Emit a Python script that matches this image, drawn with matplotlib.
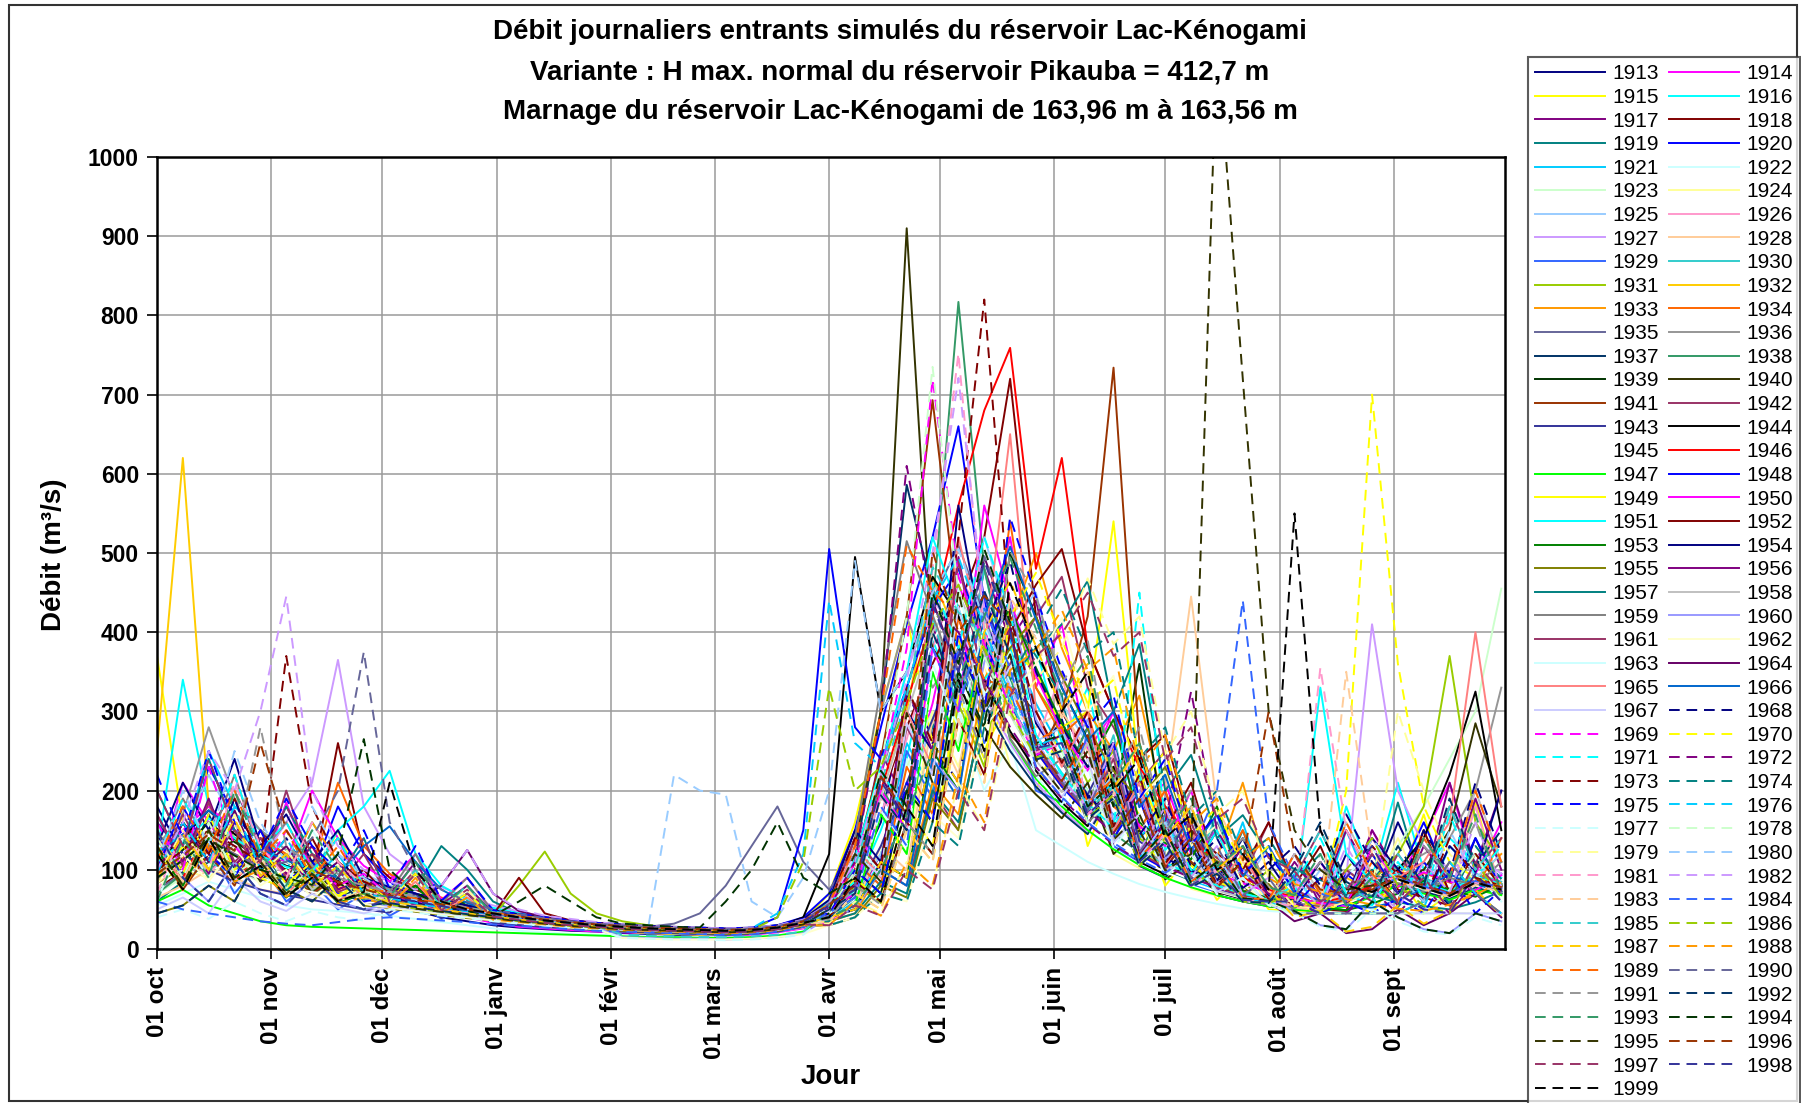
#!/usr/bin/env python
"""
plot.py
───────
Débits journaliers entrants simulés du réservoir Lac-Kénogami,
une courbe par année hydrologique (1913 à 1999), du 1er octobre au 30 septembre.
"""

import numpy as np
import matplotlib
matplotlib.use("Agg")
import matplotlib.pyplot as plt
from matplotlib.patches import Rectangle

plt.rcParams["font.family"] = ["Liberation Sans", "DejaVu Sans"]

TITRE = [
    "Débit journaliers entrants simulés du réservoir Lac-Kénogami",
    "Variante : H max. normal du réservoir Pikauba = 412,7 m",
    "Marnage du réservoir Lac-Kénogami de 163,96 m à 163,56 m",
]

# jour de l'année hydrologique (0 = 1er octobre), une valeur par semaine
jours = np.arange(0, 365, 7)

MOIS_JOURS = [0, 31, 61, 92, 123, 151, 182, 212, 243, 273, 304, 335]
MOIS_NOMS = ["01 oct", "01 nov", "01 déc", "01 janv", "01 févr", "01 mars",
             "01 avr", "01 mai", "01 juin", "01 juil", "01 août", "01 sept"]

# débits (m³/s) : oct-nov | déc-janv | févr-mars | avr-mai | juin-juil | août-sept
q1913 = [180, 120, 95, 140, 110, 85, 70, 90, 65,  55, 48, 40, 35, 30, 27, 25, 23, 22,  20, 19, 18, 17, 18, 19, 22, 30,  45, 90, 160, 320, 270, 420, 310, 380, 240,  290, 190, 230, 140, 175, 95, 150, 80, 110,  62, 45, 120, 75, 160, 90, 55, 140, 70]
q1914 = [95, 210, 160, 110, 90, 185, 100, 140, 70,  95, 55, 45, 40, 33, 28, 26, 24, 22,  21, 20, 19, 18, 17, 18, 21, 26,  35, 60, 120, 200, 310, 460, 380, 520, 330,  410, 250, 300, 180, 210, 120, 150, 90, 130,  70, 110, 60, 150, 90, 140, 210, 95, 160]
q1915 = [370, 160, 120, 100, 130, 95, 85, 150, 70,  62, 55, 48, 42, 36, 32, 28, 26, 24,  22, 20, 19, 18, 18, 20, 24, 35,  70, 160, 300, 420, 260, 380, 250, 320, 200,  280, 130, 210, 170, 80, 120, 62, 95, 50,  48, 46, 55, 120, 80, 170, 60, 185, 70]
q1916 = [120, 340, 180, 140, 120, 100, 160, 110, 85,  70, 60, 52, 45, 38, 33, 30, 27, 25,  23, 21, 20, 19, 18, 19, 22, 28,  40, 75, 150, 240, 390, 310, 450, 330, 380,  260, 330, 180, 250, 125, 160, 80, 130, 55,  95, 48, 180, 90, 210, 100, 140, 110, 90]
q1917 = [110, 90, 150, 200, 130, 110, 95, 85, 80,  70, 65, 58, 50, 44, 40, 36, 33, 30,  28, 26, 25, 24, 23, 24, 27, 33,  48, 90, 250, 180, 410, 300, 480, 390, 440,  300, 240, 260, 150, 200, 95, 150, 72, 64,  120, 56, 62, 150, 95, 80, 210, 105, 200]
q1918 = [75, 100, 120, 95, 150, 115, 90, 260, 120,  90, 75, 62, 55, 48, 42, 38, 34, 31,  29, 27, 26, 25, 24, 25, 28, 35,  55, 100, 190, 280, 360, 430, 520, 720, 420,  300, 240, 190, 250, 150, 210, 100, 85, 72,  55, 50, 48, 130, 75, 65, 55, 80, 70]
q1919 = [60, 85, 110, 130, 100, 90, 120, 100, 80,  70, 75, 130, 100, 60, 45, 38, 33, 30,  27, 25, 24, 23, 22, 23, 26, 32,  40, 65, 120, 200, 280, 350, 300, 420, 370,  320, 160, 135, 220, 98, 85, 74, 150, 58,  52, 50, 58, 70, 185, 75, 68, 90, 80]
q1920 = [140, 110, 230, 170, 130, 110, 95, 180, 120,  85, 70, 60, 52, 45, 40, 36, 32, 30,  28, 26, 25, 24, 23, 25, 30, 40,  70, 150, 280, 410, 520, 660, 440, 330, 260,  210, 280, 140, 190, 100, 130, 76, 66, 58,  52, 48, 95, 68, 90, 160, 85, 70, 95]
q1921 = [90, 130, 250, 180, 150, 125, 110, 95, 85,  75, 65, 56, 48, 42, 37, 33, 30, 28,  26, 24, 23, 22, 21, 22, 25, 31,  38, 60, 110, 260, 200, 330, 430, 390, 310,  250, 200, 170, 140, 180, 86, 75, 160, 58,  52, 48, 150, 72, 60, 52, 130, 95, 80]
q1922 = [55, 70, 85, 75, 65, 55, 50, 48, 45,  42, 38, 34, 30, 26, 23, 21, 19, 18,  17, 16, 15, 15, 14, 15, 17, 22,  38, 110, 80, 240, 170, 300, 200, 260, 150,  130, 110, 95, 82, 72, 64, 57, 51, 48,  46, 45, 45, 45, 45, 45, 45, 45, 45]
q1923 = [70, 90, 120, 100, 85, 110, 95, 80, 72,  64, 56, 50, 44, 38, 34, 30, 27, 25,  23, 22, 21, 20, 19, 20, 23, 28,  45, 70, 120, 230, 300, 260, 410, 380, 300,  240, 200, 165, 230, 112, 95, 82, 140, 64,  58, 54, 65, 90, 130, 180, 240, 300, 455]
q1924 = [85, 100, 90, 120, 105, 90, 80, 75, 68,  60, 54, 48, 42, 37, 33, 30, 27, 25,  23, 21, 20, 19, 19, 20, 23, 29,  46, 70, 175, 120, 300, 230, 360, 230, 195,  165, 240, 120, 102, 150, 76, 67, 110, 54,  50, 48, 56, 66, 140, 70, 62, 75, 68]
q1925 = [100, 140, 220, 160, 125, 105, 90, 120, 95,  80, 68, 58, 50, 44, 39, 35, 31, 29,  27, 25, 24, 23, 22, 23, 26, 33,  45, 70, 120, 180, 290, 380, 520, 410, 450,  310, 260, 300, 190, 150, 180, 95, 78, 130,  68, 54, 100, 78, 60, 140, 88, 75, 95]
q1926 = [80, 110, 95, 130, 105, 85, 75, 70, 65,  58, 52, 46, 41, 36, 32, 29, 26, 24,  22, 21, 20, 19, 18, 19, 22, 27,  44, 86, 170, 265, 380, 470, 420, 330, 260,  350, 175, 245, 120, 100, 160, 75, 66, 58,  53, 50, 58, 140, 88, 76, 66, 180, 72]
q1927 = [95, 120, 150, 130, 110, 160, 210, 365, 180,  120, 95, 78, 65, 55, 47, 41, 36, 32,  29, 27, 26, 25, 24, 25, 28, 35,  58, 115, 230, 350, 440, 400, 320, 260, 210,  175, 148, 200, 105, 90, 130, 68, 60, 54,  50, 56, 90, 410, 200, 130, 100, 120, 95]
q1928 = [65, 80, 100, 90, 75, 70, 95, 80, 70,  62, 55, 48, 43, 38, 34, 31, 28, 26,  24, 22, 21, 20, 20, 21, 24, 30,  40, 55, 130, 100, 290, 220, 420, 300, 280,  300, 250, 190, 150, 200, 445, 180, 110, 80,  65, 58, 70, 85, 100, 85, 72, 90, 80]
q1929 = [150, 95, 130, 70, 110, 60, 85, 50, 70,  42, 60, 38, 50, 33, 30, 28, 26, 24,  22, 21, 20, 19, 18, 19, 22, 28,  42, 110, 80, 250, 190, 380, 260, 330, 200,  185, 270, 130, 110, 170, 82, 72, 64, 58,  52, 48, 55, 68, 82, 72, 64, 78, 70]
q1930 = [120, 150, 110, 95, 140, 115, 100, 85, 75,  68, 60, 53, 47, 41, 36, 32, 29, 27,  25, 23, 22, 21, 20, 21, 24, 30,  52, 80, 200, 150, 420, 300, 480, 330, 260,  215, 180, 270, 125, 106, 92, 170, 70, 62,  56, 52, 62, 80, 105, 90, 76, 95, 85]
q1931 = [80, 105, 130, 110, 95, 85, 78, 72, 66,  60, 55, 50, 46, 42, 80, 123, 70, 45,  35, 30, 27, 25, 24, 25, 28, 34,  40, 80, 58, 160, 120, 310, 230, 440, 330,  280, 210, 250, 140, 115, 170, 85, 70, 100,  58, 50, 62, 85, 120, 180, 370, 160, 110]
q1932 = [250, 620, 180, 140, 115, 100, 88, 78, 70,  63, 57, 51, 46, 41, 37, 33, 30, 28,  26, 24, 23, 22, 21, 22, 25, 31,  50, 95, 190, 300, 470, 390, 310, 350, 250,  205, 172, 230, 122, 104, 150, 78, 68, 60,  55, 52, 90, 74, 60, 110, 68, 85, 75]
q1933 = [90, 115, 140, 120, 100, 88, 160, 110, 85,  72, 62, 54, 47, 41, 36, 32, 29, 27,  25, 23, 22, 21, 20, 21, 24, 30,  35, 45, 100, 80, 210, 170, 340, 410, 500,  380, 300, 250, 320, 170, 140, 115, 210, 90,  70, 54, 100, 75, 60, 150, 70, 88, 120]
q1934 = [110, 90, 125, 105, 140, 120, 100, 210, 130,  95, 78, 65, 55, 47, 41, 36, 32, 29,  27, 25, 24, 23, 22, 23, 26, 32,  45, 110, 80, 230, 170, 420, 300, 540, 330,  270, 300, 180, 152, 200, 108, 93, 150, 71,  63, 57, 53, 110, 78, 96, 84, 72, 140]
q1935 = [75, 95, 115, 100, 88, 80, 72, 66, 60,  55, 50, 46, 42, 38, 35, 32, 30, 28,  27, 28, 32, 45, 80, 130, 180, 110,  75, 120, 220, 330, 440, 510, 420, 330, 260,  215, 178, 148, 230, 105, 91, 160, 69, 61,  56, 52, 60, 72, 88, 76, 66, 82, 74]
q1936 = [130, 170, 280, 190, 150, 125, 110, 95, 85,  76, 67, 59, 52, 46, 41, 37, 33, 30,  28, 26, 25, 24, 23, 24, 27, 33,  60, 140, 300, 420, 330, 380, 290, 330, 270,  222, 184, 260, 128, 109, 180, 82, 72, 64,  58, 54, 64, 82, 102, 120, 140, 200, 330]
q1937 = [150, 95, 170, 100, 130, 75, 110, 60, 85,  62, 95, 50, 70, 40, 36, 33, 30, 28,  26, 24, 23, 22, 21, 22, 25, 32,  55, 115, 300, 586, 450, 380, 310, 250, 205,  172, 145, 200, 105, 90, 130, 68, 60, 54,  50, 48, 55, 68, 82, 72, 64, 78, 70]
q1938 = [70, 95, 120, 105, 90, 82, 75, 68, 62,  57, 52, 47, 43, 39, 35, 32, 29, 27,  25, 24, 23, 22, 21, 22, 25, 31,  52, 75, 205, 150, 430, 817, 480, 340, 260,  210, 280, 146, 122, 180, 90, 78, 68, 60,  55, 52, 60, 74, 90, 80, 70, 86, 78]
q1939 = [100, 125, 160, 135, 115, 100, 90, 82, 75,  68, 62, 56, 50, 45, 40, 36, 33, 30,  28, 26, 25, 24, 23, 24, 27, 34,  45, 100, 70, 200, 160, 350, 280, 500, 420,  330, 265, 180, 360, 140, 100, 82, 130, 62,  56, 52, 62, 78, 96, 84, 72, 92, 82]
q1940 = [90, 160, 100, 140, 85, 120, 70, 100, 65,  62, 80, 50, 60, 40, 36, 33, 30, 28,  26, 24, 23, 22, 21, 22, 26, 34,  60, 130, 300, 910, 380, 330, 280, 230, 195,  165, 210, 120, 150, 88, 110, 68, 80, 54,  50, 48, 56, 72, 90, 100, 150, 285, 180]
q1941 = [130, 75, 120, 80, 150, 95, 70, 90, 55,  60, 55, 50, 45, 40, 36, 33, 30, 28,  26, 24, 23, 22, 21, 22, 25, 32,  55, 110, 240, 420, 693, 420, 330, 270, 240,  300, 420, 734, 260, 150, 110, 88, 74, 64,  57, 53, 62, 78, 95, 83, 72, 90, 80]
q1942 = [95, 170, 110, 150, 90, 200, 100, 80, 120,  64, 100, 52, 75, 42, 38, 34, 31, 29,  27, 25, 24, 23, 22, 23, 26, 33,  40, 50, 100, 80, 200, 150, 310, 360, 420,  470, 330, 280, 210, 250, 140, 115, 90, 160,  75, 60, 100, 75, 92, 80, 70, 88, 78]
q1943 = [160, 120, 100, 85, 75, 68, 62, 56, 50,  46, 70, 39, 55, 33, 30, 28, 26, 24,  22, 21, 20, 19, 18, 19, 22, 28,  40, 70, 130, 210, 290, 370, 450, 330, 300,  235, 195, 260, 136, 114, 170, 84, 73, 64,  57, 52, 49, 70, 86, 75, 66, 80, 72]
q1944 = [110, 140, 175, 145, 120, 105, 95, 86, 78,  70, 63, 56, 50, 45, 40, 36, 33, 30,  28, 26, 25, 24, 23, 24, 28, 40,  120, 495, 300, 350, 470, 420, 340, 275, 225,  185, 155, 230, 110, 94, 140, 72, 63, 56,  51, 48, 56, 72, 100, 140, 220, 325, 150]
q1945 = [80, 100, 120, 100, 90, 80, 72, 66, 60,  55, 50, 46, 42, 38, 34, 31, 28, 26,  24, 23, 22, 21, 20, 21, 24, 30,  50, 95, 190, 290, 390, 440, 360, 290, 235,  195, 162, 136, 114, 97, 84, 73, 64, 57,  52, 49, 57, 70, 86, 75, 66, 80, 72]
q1946 = [140, 90, 150, 85, 125, 95, 130, 75, 90,  62, 56, 50, 45, 40, 36, 33, 30, 28,  26, 24, 23, 22, 21, 22, 25, 32,  52, 100, 200, 310, 420, 560, 680, 759, 480,  620, 380, 300, 230, 180, 140, 110, 90, 75,  65, 58, 66, 80, 98, 86, 74, 92, 82]
q1947 = [60, 75, 55, 45, 35, 30, 28, 27, 26,  25, 24, 23, 22, 21, 20, 19, 18, 17,  16, 15, 15, 14, 14, 15, 17, 22,  40, 55, 170, 120, 350, 250, 390, 265, 215,  180, 150, 126, 106, 90, 78, 68, 60, 54,  50, 47, 54, 66, 80, 70, 62, 75, 68]
q1948 = [100, 180, 120, 90, 150, 85, 110, 70, 60,  66, 60, 54, 48, 43, 39, 35, 32, 30,  28, 26, 25, 24, 23, 26, 40, 150,  505, 280, 240, 330, 430, 480, 390, 310, 250,  205, 170, 260, 119, 101, 150, 76, 67, 59,  54, 90, 59, 120, 70, 110, 69, 140, 77]
q1949 = [85, 130, 100, 160, 90, 75, 120, 65, 90,  60, 54, 49, 44, 40, 36, 33, 30, 28,  26, 24, 23, 22, 21, 22, 25, 31,  40, 90, 60, 180, 130, 320, 240, 380, 350,  280, 300, 540, 220, 140, 105, 85, 72, 63,  57, 45, 61, 45, 93, 45, 71, 120, 79]
q1950 = [120, 150, 180, 150, 125, 110, 200, 140, 105,  85, 120, 62, 90, 47, 42, 37, 34, 31,  29, 27, 26, 25, 24, 25, 28, 35,  50, 70, 200, 150, 380, 300, 560, 440, 345,  275, 225, 300, 155, 130, 200, 95, 83, 72,  64, 58, 54, 130, 79, 97, 85, 74, 93]
q1951 = [110, 135, 165, 140, 118, 104, 94, 150, 180,  225, 120, 80, 62, 52, 45, 40, 36, 33,  30, 28, 27, 26, 25, 26, 29, 36,  60, 115, 230, 350, 520, 430, 340, 380, 270,  222, 184, 153, 220, 109, 94, 150, 72, 64,  58, 330, 120, 85, 95, 84, 73, 92, 82]
q1952 = [95, 160, 120, 190, 110, 85, 140, 80, 100,  65, 59, 53, 48, 43, 90, 45, 36, 33,  30, 28, 27, 26, 25, 26, 29, 36,  40, 85, 60, 160, 120, 290, 220, 400, 460,  505, 380, 300, 240, 270, 150, 120, 100, 160,  80, 130, 56, 100, 60, 150, 71, 120, 79]
q1953 = [125, 80, 140, 85, 105, 65, 95, 58, 70,  53, 80, 45, 60, 37, 34, 31, 28, 26,  24, 23, 22, 21, 20, 21, 24, 30,  40, 50, 110, 90, 250, 200, 380, 430, 355,  285, 230, 290, 160, 134, 113, 180, 73, 64,  57, 52, 49, 57, 70, 86, 75, 66, 81]
q1954 = [130, 210, 150, 240, 130, 170, 110, 150, 90,  78, 70, 62, 55, 49, 44, 40, 36, 33,  31, 29, 28, 27, 26, 27, 30, 38,  62, 150, 110, 300, 250, 560, 380, 440, 285,  235, 194, 162, 210, 115, 99, 86, 140, 67,  61, 110, 66, 140, 101, 60, 130, 97, 200]
q1955 = [45, 55, 80, 60, 120, 75, 60, 90, 55,  51, 47, 43, 39, 36, 33, 30, 27, 25,  23, 22, 21, 20, 19, 20, 23, 29,  30, 40, 80, 65, 190, 150, 310, 380, 420,  345, 278, 225, 188, 230, 132, 111, 95, 82,  45, 45, 45, 45, 45, 60, 110, 70, 45]
q1956 = [170, 110, 190, 105, 140, 95, 130, 75, 90,  68, 110, 56, 80, 45, 40, 36, 33, 30,  28, 26, 25, 24, 23, 24, 27, 34,  56, 140, 100, 330, 250, 495, 330, 405, 256,  210, 175, 146, 200, 104, 90, 78, 130, 60,  110, 65, 150, 90, 55, 130, 85, 190, 100]
q1957 = [200, 130, 240, 150, 110, 180, 120, 90, 140,  61, 56, 51, 46, 41, 37, 34, 31, 29,  27, 25, 24, 23, 22, 23, 26, 32,  35, 45, 85, 70, 200, 160, 300, 340, 380,  410, 465, 300, 385, 200, 245, 140, 169, 118,  101, 87, 76, 67, 59, 54, 50, 59, 73]
q1958 = [85, 140, 95, 160, 90, 120, 75, 100, 65,  59, 54, 49, 45, 40, 36, 33, 30, 28,  26, 24, 23, 22, 21, 22, 25, 31,  50, 96, 192, 295, 400, 450, 372, 296, 238,  198, 260, 138, 170, 99, 120, 74, 65, 58,  120, 70, 160, 95, 60, 140, 90, 200, 110]
q1959 = [115, 190, 130, 220, 120, 160, 100, 140, 80,  72, 120, 58, 90, 47, 42, 38, 34, 31,  29, 27, 26, 25, 24, 25, 28, 35,  58, 140, 330, 515, 422, 334, 380, 266, 218,  240, 160, 190, 110, 140, 80, 110, 60, 56,  52, 62, 78, 95, 83, 72, 90, 80, 110]
q1960 = [150, 90, 60, 110, 70, 55, 90, 60, 50,  56, 51, 47, 43, 39, 35, 32, 29, 27,  15, 14, 13, 13, 12, 13, 15, 20,  40, 50, 100, 80, 240, 200, 362, 440, 290,  234, 290, 162, 200, 114, 140, 84, 100, 64,  48, 30, 25, 60, 40, 25, 20, 45, 35]
q1961 = [170, 105, 185, 110, 140, 90, 120, 72, 85,  66, 60, 54, 49, 44, 40, 36, 33, 30,  28, 26, 25, 24, 23, 24, 27, 34,  55, 140, 100, 280, 220, 490, 330, 402, 254,  208, 173, 240, 121, 103, 160, 77, 68, 60,  90, 150, 80, 60, 120, 75, 180, 100, 140]
q1962 = [72, 120, 85, 130, 80, 100, 65, 90, 57,  52, 48, 44, 40, 36, 33, 30, 27, 25,  14, 13, 12, 12, 12, 13, 15, 19,  30, 40, 70, 60, 170, 140, 280, 320, 360,  418, 300, 345, 190, 224, 130, 156, 80, 60,  45, 45, 45, 45, 45, 45, 45, 45, 45]
q1963 = [60, 140, 90, 200, 120, 80, 150, 100, 70,  60, 55, 50, 45, 41, 37, 34, 31, 28,  26, 25, 24, 23, 22, 23, 26, 32,  52, 130, 98, 300, 230, 455, 320, 375, 242,  250, 170, 200, 110, 140, 80, 100, 62, 58,  60, 45, 90, 130, 70, 50, 45, 95, 60]
q1964 = [95, 160, 110, 175, 100, 130, 85, 110, 70,  64, 60, 80, 125, 70, 48, 40, 36, 33,  30, 28, 27, 26, 25, 26, 29, 36,  58, 80, 218, 160, 440, 350, 495, 405, 255,  270, 180, 220, 120, 160, 85, 110, 65, 60,  35, 45, 20, 25, 50, 30, 45, 70, 40]
q1965 = [130, 85, 150, 90, 110, 70, 100, 62, 75,  57, 85, 48, 65, 40, 36, 33, 30, 28,  26, 24, 23, 22, 21, 22, 25, 31,  50, 130, 90, 300, 230, 520, 380, 650, 300,  230, 300, 150, 210, 106, 150, 79, 120, 61,  56, 52, 60, 74, 90, 110, 160, 400, 180]
q1966 = [120, 145, 175, 150, 126, 112, 100, 90, 130,  155, 110, 75, 58, 48, 42, 38, 34, 31,  29, 27, 26, 25, 24, 25, 28, 35,  40, 55, 100, 80, 240, 190, 420, 508, 416,  330, 263, 300, 179, 220, 125, 170, 92, 130,  70, 62, 56, 52, 61, 77, 94, 82, 72]
q1967 = [50, 65, 45, 90, 60, 48, 70, 52, 45,  54, 50, 46, 42, 38, 34, 31, 28, 26,  24, 23, 22, 21, 20, 21, 24, 30,  48, 120, 92, 285, 220, 432, 300, 356, 230,  192, 240, 134, 170, 96, 120, 72, 90, 56,  45, 45, 45, 45, 45, 45, 45, 45, 45]
q1968 = [98, 160, 110, 190, 100, 140, 87, 120, 71,  65, 59, 53, 48, 43, 39, 35, 32, 30,  28, 26, 25, 24, 23, 24, 27, 34,  40, 50, 110, 90, 260, 210, 400, 490, 350,  280, 230, 260, 144, 190, 103, 140, 77, 100,  130, 80, 170, 110, 70, 150, 95, 210, 120]
q1969 = [160, 100, 230, 130, 90, 150, 105, 80, 95,  67, 61, 55, 50, 45, 40, 36, 33, 30,  28, 26, 25, 24, 23, 24, 27, 34,  56, 108, 220, 380, 720, 470, 385, 305, 245,  260, 170, 200, 110, 150, 80, 110, 62, 58,  60, 45, 90, 130, 70, 50, 45, 95, 60]
q1970 = [150, 95, 170, 100, 130, 82, 110, 68, 80,  62, 95, 51, 70, 41, 37, 34, 31, 29,  27, 25, 24, 23, 22, 23, 26, 32,  35, 70, 50, 150, 110, 290, 210, 420, 475,  390, 310, 340, 205, 250, 142, 180, 101, 130,  54, 60, 200, 700, 360, 180, 110, 90, 80]
q1971 = [115, 190, 130, 220, 124, 160, 98, 140, 80,  72, 65, 58, 52, 47, 42, 38, 34, 31,  29, 27, 26, 25, 24, 25, 28, 35,  58, 85, 226, 170, 462, 380, 520, 425, 268,  220, 182, 152, 450, 160, 100, 80, 70, 62,  80, 140, 70, 55, 110, 65, 170, 90, 130]
q1972 = [88, 140, 95, 160, 90, 120, 80, 100, 66,  60, 55, 50, 45, 41, 37, 34, 31, 28,  26, 25, 24, 23, 22, 23, 26, 32,  52, 110, 300, 610, 430, 400, 340, 280, 230,  190, 158, 132, 111, 160, 325, 150, 95, 70,  58, 45, 45, 74, 45, 79, 45, 86, 77]
q1973 = [100, 125, 150, 130, 110, 370, 180, 110, 85,  72, 64, 57, 51, 46, 41, 37, 34, 31,  29, 27, 26, 25, 24, 25, 28, 35,  56, 140, 100, 330, 260, 520, 820, 420, 300,  235, 300, 155, 220, 108, 150, 81, 110, 63,  57, 90, 62, 130, 94, 60, 140, 90, 80]
q1974 = [130, 80, 150, 90, 110, 74, 100, 61, 70,  56, 51, 47, 43, 39, 35, 32, 29, 27,  25, 24, 23, 22, 21, 22, 25, 31,  30, 40, 70, 60, 160, 130, 280, 340, 400,  455, 375, 400, 240, 280, 166, 200, 116, 140,  86, 120, 66, 100, 53, 90, 58, 130, 88]
q1975 = [220, 140, 250, 160, 120, 190, 130, 100, 150,  76, 130, 61, 90, 49, 44, 40, 36, 33,  31, 29, 28, 27, 26, 27, 30, 38,  45, 100, 70, 210, 160, 400, 300, 545, 445,  352, 280, 320, 190, 240, 132, 170, 97, 120,  74, 45, 59, 45, 64, 45, 98, 45, 75]
q1976 = [96, 160, 110, 180, 100, 140, 85, 120, 70,  64, 58, 52, 47, 42, 38, 35, 32, 29,  27, 26, 25, 24, 23, 26, 45, 120,  440, 260, 230, 330, 440, 495, 405, 320, 256,  270, 180, 210, 115, 150, 85, 105, 62, 60,  45, 45, 45, 45, 45, 60, 110, 70, 45]
q1977 = [40, 50, 38, 60, 45, 35, 48, 40, 36,  50, 46, 42, 39, 35, 32, 29, 27, 25,  14, 13, 12, 12, 11, 12, 14, 18,  45, 65, 175, 130, 360, 280, 408, 336, 218,  182, 230, 128, 170, 92, 120, 69, 90, 55,  45, 28, 22, 50, 35, 22, 18, 40, 30]
q1978 = [140, 90, 160, 95, 115, 77, 100, 64, 75,  58, 53, 48, 44, 40, 36, 33, 30, 28,  26, 24, 23, 22, 21, 22, 25, 31,  50, 98, 230, 420, 735, 450, 370, 295, 238,  250, 160, 190, 105, 140, 80, 95, 60, 58,  45, 45, 45, 45, 45, 45, 75, 120, 60]
q1979 = [90, 150, 100, 170, 95, 125, 81, 105, 67,  61, 100, 51, 75, 41, 37, 34, 31, 29,  27, 25, 24, 23, 22, 23, 26, 32,  32, 60, 45, 110, 80, 210, 150, 300, 340,  380, 468, 385, 420, 246, 300, 170, 200, 90,  54, 50, 59, 73, 300, 200, 120, 86, 76]
q1980 = [108, 200, 130, 250, 160, 110, 180, 120, 90,  69, 62, 56, 50, 45, 41, 37, 34, 31,  29, 27, 220, 200, 195, 60, 40, 90,  200, 490, 300, 350, 450, 505, 415, 330, 262,  280, 180, 220, 115, 160, 85, 120, 65, 61,  56, 100, 61, 140, 93, 60, 150, 89, 120]
q1981 = [70, 150, 100, 210, 130, 90, 160, 110, 80,  59, 54, 49, 45, 41, 37, 33, 30, 28,  26, 24, 23, 22, 21, 22, 25, 31,  50, 70, 192, 150, 480, 752, 400, 310, 248,  260, 170, 200, 110, 145, 80, 100, 62, 59,  54, 355, 150, 90, 88, 77, 67, 84, 75]
q1982 = [100, 160, 250, 200, 300, 445, 200, 130, 100,  85, 75, 80, 125, 70, 50, 42, 38, 34,  31, 29, 28, 27, 26, 27, 30, 37,  58, 110, 220, 340, 500, 721, 430, 330, 262,  215, 178, 260, 124, 180, 91, 130, 69, 90,  90, 52, 130, 76, 50, 110, 71, 160, 79]
q1983 = [130, 85, 150, 90, 115, 70, 100, 63, 72,  57, 52, 48, 44, 40, 36, 33, 30, 28,  26, 24, 23, 22, 21, 22, 25, 31,  35, 70, 50, 150, 110, 290, 210, 444, 392,  292, 350, 196, 260, 136, 180, 97, 130, 73,  52, 49, 350, 120, 86, 75, 66, 81, 72]
q1984 = [60, 50, 45, 40, 35, 32, 30, 34, 38,  40, 38, 36, 34, 31, 29, 27, 25, 23,  22, 21, 20, 19, 18, 19, 22, 28,  46, 65, 180, 130, 380, 300, 430, 355, 230,  192, 160, 134, 113, 96, 120, 200, 440, 160,  90, 70, 62, 74, 90, 79, 69, 86, 77]
q1985 = [150, 90, 60, 110, 70, 55, 90, 60, 50,  63, 100, 52, 80, 42, 38, 35, 32, 29,  18, 17, 16, 15, 15, 16, 18, 22,  54, 104, 208, 318, 482, 425, 395, 312, 250,  260, 175, 205, 110, 150, 82, 110, 63, 59,  90, 150, 80, 60, 120, 75, 180, 100, 140]
q1986 = [130, 80, 150, 90, 110, 70, 100, 61, 70,  56, 51, 47, 43, 39, 35, 32, 29, 27,  25, 24, 23, 22, 22, 24, 40, 110,  330, 200, 230, 310, 410, 460, 380, 300, 242,  250, 165, 195, 105, 140, 80, 100, 60, 58,  70, 45, 100, 140, 80, 55, 45, 110, 65]
q1987 = [88, 145, 100, 165, 92, 120, 78, 105, 66,  60, 55, 50, 45, 41, 37, 34, 31, 28,  26, 25, 24, 23, 22, 23, 26, 32,  40, 50, 110, 90, 260, 210, 400, 465, 382,  303, 360, 202, 260, 141, 180, 100, 130, 76,  40, 48, 22, 28, 55, 32, 48, 75, 42]
q1988 = [120, 74, 135, 85, 100, 66, 90, 58, 65,  53, 90, 45, 65, 37, 34, 31, 28, 26,  24, 23, 22, 21, 20, 21, 24, 30,  30, 60, 42, 110, 80, 220, 160, 352, 378,  428, 352, 380, 228, 270, 158, 190, 112, 140,  82, 72, 63, 56, 51, 48, 56, 69, 84]
q1989 = [112, 180, 125, 200, 115, 150, 90, 130, 79,  71, 64, 58, 52, 46, 42, 38, 34, 31,  29, 27, 26, 25, 24, 25, 28, 35,  57, 130, 300, 510, 452, 418, 340, 330, 263,  280, 185, 215, 115, 150, 85, 110, 65, 62,  120, 70, 160, 95, 60, 140, 90, 200, 110]
q1990 = [90, 112, 138, 120, 104, 110, 140, 200, 375,  160, 100, 75, 60, 50, 44, 39, 35, 32,  30, 28, 27, 26, 25, 26, 29, 36,  57, 80, 216, 170, 440, 350, 496, 406, 257,  211, 175, 250, 122, 170, 90, 130, 68, 90,  45, 45, 45, 45, 45, 60, 110, 70, 45]
q1991 = [96, 118, 145, 124, 280, 130, 105, 90, 80,  72, 66, 60, 52, 46, 41, 37, 34, 31,  29, 27, 26, 25, 24, 25, 28, 35,  38, 80, 56, 160, 120, 330, 240, 502, 446,  335, 390, 212, 280, 147, 200, 104, 140, 78,  68, 110, 55, 90, 60, 130, 92, 160, 70]
q1992 = [45, 55, 80, 60, 120, 75, 60, 90, 55,  58, 53, 48, 44, 40, 36, 33, 30, 28,  26, 24, 23, 22, 21, 22, 25, 31,  50, 70, 194, 150, 400, 320, 452, 372, 239,  250, 165, 190, 105, 135, 78, 95, 60, 58,  100, 160, 85, 65, 130, 80, 190, 105, 150]
q1993 = [60, 140, 90, 200, 120, 80, 150, 100, 70,  66, 110, 54, 80, 44, 40, 36, 33, 30,  28, 26, 25, 24, 23, 24, 27, 34,  40, 55, 100, 170, 250, 340, 420, 494, 404,  320, 370, 210, 260, 146, 190, 104, 130, 78,  68, 120, 55, 90, 60, 140, 91, 170, 70]
q1994 = [90, 112, 138, 118, 100, 90, 81, 120, 265,  100, 70, 56, 48, 42, 60, 80, 60, 40,  32, 30, 28, 27, 60, 100, 160, 90,  70, 90, 225, 180, 450, 360, 505, 412, 260,  270, 180, 210, 112, 150, 84, 110, 64, 61,  48, 30, 25, 60, 40, 25, 20, 45, 35]
q1995 = [130, 80, 150, 90, 110, 70, 95, 61, 70,  56, 51, 47, 43, 39, 35, 32, 29, 27,  25, 24, 23, 22, 21, 22, 25, 31,  50, 120, 85, 298, 210, 452, 300, 372, 239,  198, 250, 138, 170, 99, 120, 1150, 720, 300,  150, 100, 75, 80, 88, 77, 67, 84, 75]
q1996 = [95, 118, 145, 124, 260, 150, 100, 85, 75,  68, 62, 56, 50, 45, 41, 37, 34, 31,  29, 27, 26, 25, 24, 25, 28, 35,  56, 80, 218, 170, 502, 400, 446, 410, 259,  212, 270, 147, 190, 104, 140, 78, 110, 300,  120, 75, 70, 75, 92, 80, 70, 88, 78]
q1997 = [200, 130, 240, 150, 110, 180, 120, 90, 140,  59, 95, 49, 70, 41, 37, 33, 30, 28,  26, 24, 23, 22, 21, 22, 25, 31,  30, 55, 42, 100, 75, 200, 150, 320, 370,  398, 450, 370, 400, 238, 280, 164, 190, 115,  98, 60, 74, 120, 58, 90, 50, 110, 72]
q1998 = [150, 90, 60, 110, 70, 55, 90, 60, 50,  66, 60, 54, 49, 44, 40, 36, 33, 30,  28, 26, 25, 24, 23, 24, 27, 34,  55, 75, 212, 160, 435, 350, 490, 400, 254,  260, 170, 200, 110, 140, 80, 100, 62, 60,  60, 45, 90, 130, 70, 50, 45, 95, 60]
q1999 = [120, 75, 140, 85, 105, 66, 90, 60, 72,  210, 100, 60, 50, 45, 40, 36, 33, 30,  28, 26, 25, 24, 23, 24, 27, 33,  40, 90, 60, 180, 130, 340, 250, 462, 380,  300, 350, 200, 240, 140, 170, 100, 120, 75,  550, 150, 80, 72, 88, 77, 67, 84, 75]

ANNEES = list(range(1913, 2000))

# couleurs de série (cycle de 55), solides puis tiretées au second passage
PALETTE = ["#000080", "#FF00FF", "#FFFF00", "#00FFFF", "#800080", "#800000", "#008080", "#0000FF",
           "#00CCFF", "#CCFFFF", "#CCFFCC", "#FFFF99", "#99CCFF", "#FF99CC", "#CC99FF", "#FFCC99",
           "#3366FF", "#33CCCC", "#99CC00", "#FFCC00", "#FF9900", "#FF6600", "#666699", "#969696",
           "#003366", "#339966", "#003300", "#333300", "#993300", "#993366", "#333399", "#000000",
           "#FFFFFF", "#FF0000", "#00FF00", "#0000FF", "#FFFF00", "#FF00FF", "#00FFFF", "#800000",
           "#008000", "#000080", "#808000", "#800080", "#008080", "#C0C0C0", "#808080", "#9999FF",
           "#993366", "#FFFFCC", "#CCFFFF", "#660066", "#FF8080", "#0066CC", "#CCCCFF"]

W, H = 1801, 1103


def px(x, y):
    """pixel (depuis le coin haut-gauche) -> fraction de figure"""
    return x / W, 1 - y / H


def main():
    fig = plt.figure(figsize=(W / 100, H / 100), dpi=100)
    x0, y1 = px(157, 157)
    x1, y0 = px(1505, 949)
    ax = fig.add_axes([x0, y0, x1 - x0, y1 - y0])

    handles = {}
    for i, an in enumerate(ANNEES):
        q = globals()[f"q{an}"]
        style = "-" if i < len(PALETTE) else (0, (5.5, 3.5))
        (ln,) = ax.plot(jours[:len(q)], q, color=PALETTE[i % len(PALETTE)],
                        lw=1.4, ls=style, label=str(an))
        handles[an] = ln

    ax.set_xlim(0, 365)
    ax.set_ylim(0, 1000)
    ax.set_yticks(np.arange(0, 1001, 100))
    ax.set_xticks(MOIS_JOURS)
    ax.set_xticklabels(MOIS_NOMS, rotation=90, fontsize=17.5, fontweight="bold")
    for lab in ax.get_yticklabels():
        lab.set_fontsize(16.5)
        lab.set_fontweight("bold")
    ax.tick_params(axis="both", direction="out", length=7, width=1.2, pad=6)
    ax.grid(True, color="#9a9a9a", lw=1.1)
    ax.set_axisbelow(True)
    for s in ax.spines.values():
        s.set_linewidth(1.8)
        s.set_color("black")

    # titre sur trois lignes
    for k, ligne in enumerate(TITRE):
        fig.text(*px(900, 32 + 40 * k), ligne, ha="center", va="center",
                 fontsize=20, fontweight="bold")
    fig.text(*px(54, 555), "Débit (m³/s)", rotation=90, ha="center", va="center",
             fontsize=20, fontweight="bold")
    fig.text(*px(831, 1077), "Jour", ha="center", va="center",
             fontsize=20, fontweight="bold")

    # légende remplie ligne par ligne (1913 | 1914, 1915 | 1916, ...)
    ordre = ANNEES[0::2] + ANNEES[1::2]
    leg = fig.legend([handles[a] for a in ordre], [str(a) for a in ordre],
                     loc="upper left", bbox_to_anchor=px(1528, 57), ncol=2,
                     fontsize=15, frameon=True, fancybox=False, borderaxespad=0,
                     handlelength=3.35, handletextpad=0.35, columnspacing=0.5,
                     labelspacing=0.222, borderpad=0.35)
    leg.get_frame().set_edgecolor("#333333")
    leg.get_frame().set_linewidth(1.5)

    # cadre extérieur du graphique
    fig.add_artist(Rectangle(px(9, 1101), (1797 - 9) / W, (1101 - 5) / H,
                             transform=fig.transFigure, fill=False,
                             edgecolor="#333333", lw=1.5))

    fig.savefig("out.png", dpi=100)
    plt.close(fig)


if __name__ == "__main__":
    main()
